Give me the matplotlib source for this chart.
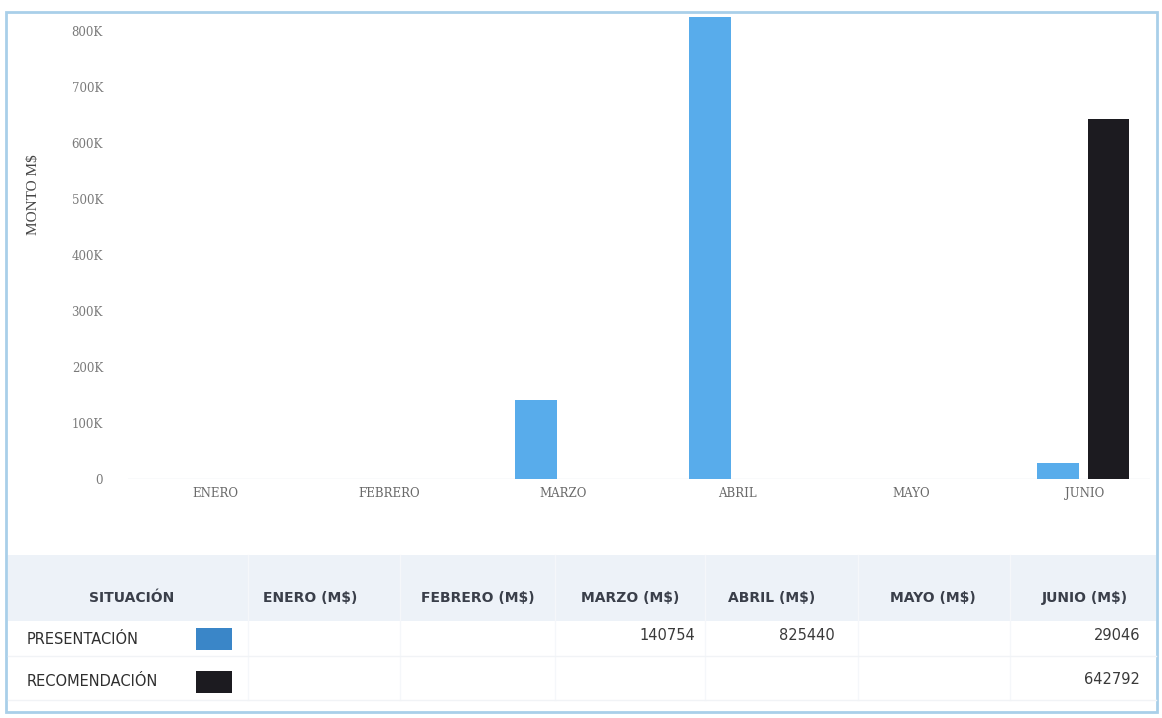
import matplotlib
matplotlib.use("Agg")
import matplotlib.pyplot as plt
from matplotlib.patches import Rectangle
import numpy as np

months = ["ENERO", "FEBRERO", "MARZO", "ABRIL", "MAYO", "JUNIO"]
presentacion = [0, 0, 140754, 825440, 0, 29046]
recomendacion = [0, 0, 0, 0, 0, 642792]
yticks = [0, 100000, 200000, 300000, 400000, 500000, 600000, 700000, 800000]
ytick_labels = ["0", "100K", "200K", "300K", "400K", "500K", "600K", "700K", "800K"]
series_names = ["PRESENTACIÓN", "RECOMENDACIÓN"]
header_labels = ["SITUACIÓN"] + [m + " (M$)" for m in months]

W, H = 1162, 718
fig = plt.figure(figsize=(W / 100, H / 100), dpi=100)
fig.patch.set_facecolor("white")

def fx(px):
    return px / W

def fy(py):
    return 1 - py / H

blue_bar = "#58aceb"
blue_leg = "#3a86c8"
black = "#1c1b20"

# chart axes
ax_left, ax_right, ax_top, ax_bottom = 128, 1150, 14, 479
ax = fig.add_axes([fx(ax_left), fy(ax_bottom), fx(ax_right - ax_left), (ax_bottom - ax_top) / H])
spacing = 174.0
x = np.arange(len(months))
ax.set_xlim(-0.5, -0.5 + (ax_right - ax_left) / spacing)
ax.set_ylim(0, (ax_bottom - ax_top) / 0.56 * 1000)
bw = 0.24
ax.bar(x - 0.155, presentacion, width=bw, color=blue_bar, zorder=3)
ax.bar(x + 0.135, recomendacion, width=bw, color=black, zorder=3)
for s in ax.spines.values():
    s.set_visible(False)
ax.axhline(0, color="#e4e8ec", lw=1, zorder=1)
ax.set_yticks(yticks)
ax.set_yticklabels(ytick_labels, family="DejaVu Serif", fontsize=8.5, color="#7a7a7a")
ax.set_xticks(x)
ax.set_xticklabels(months, family="DejaVu Serif", fontsize=8.5, color="#6a6a6a")
ax.tick_params(axis="y", length=0, pad=18)
ax.tick_params(axis="x", length=0, pad=6)
ax.set_ylabel("MONTO M$", family="Liberation Serif", fontsize=11, color="#444444")
ax.yaxis.set_label_coords((40 - ax_left) / (ax_right - ax_left), (ax_bottom - 195) / (ax_bottom - ax_top))

# table
hdr_top, hdr_bot = 555, 621
fig.add_artist(Rectangle((fx(8), fy(hdr_bot)), fx(1148), (hdr_bot - hdr_top) / H,
                         transform=fig.transFigure, facecolor="#edf2f8", edgecolor="none", zorder=0))
col_centers = [132, 310, 478, 630, 772, 933, 1085]
col_right = [None, 375, 545, 695, 835, 995, 1140]
for lab, cx in zip(header_labels, col_centers):
    fig.text(fx(cx), fy(598), lab, ha="center", va="center", family="DejaVu Sans",
             fontsize=10, fontweight="bold", color="#3a3f4a")
# faint column separators
for sx in [248, 400, 555, 705, 858, 1010]:
    fig.add_artist(plt.Line2D([fx(sx), fx(sx)], [fy(hdr_top), fy(700)], transform=fig.transFigure,
                              color="#f5f7fa", lw=1))
for ry in [656, 700]:
    fig.add_artist(plt.Line2D([fx(8), fx(1156)], [fy(ry), fy(ry)], transform=fig.transFigure,
                              color="#f1f3f6", lw=1))

row_y = [639, 682]
row_colors = [blue_leg, black]
rows = [presentacion, recomendacion]
for name, ry, col, vals in zip(series_names, row_y, row_colors, rows):
    fig.text(fx(27), fy(ry), name, ha="left", va="center", family="DejaVu Sans",
             fontsize=10.5, color="#2f2f2f")
    fig.add_artist(Rectangle((fx(196), fy(ry + 11)), fx(36), 22 / H, transform=fig.transFigure,
                             facecolor=col, edgecolor="none"))
    for v, rx in zip(vals, col_right[1:]):
        if v:
            fig.text(fx(rx), fy(ry - 3), str(v), ha="right", va="center", family="DejaVu Sans",
                     fontsize=10.5, color="#3a3a3a")

# outer border
fig.add_artist(Rectangle((fx(6), fy(712)), fx(1151), 700 / H, transform=fig.transFigure,
                         facecolor="none", edgecolor="#a9cfe9", lw=2))

fig.savefig("out.png", dpi=100)
